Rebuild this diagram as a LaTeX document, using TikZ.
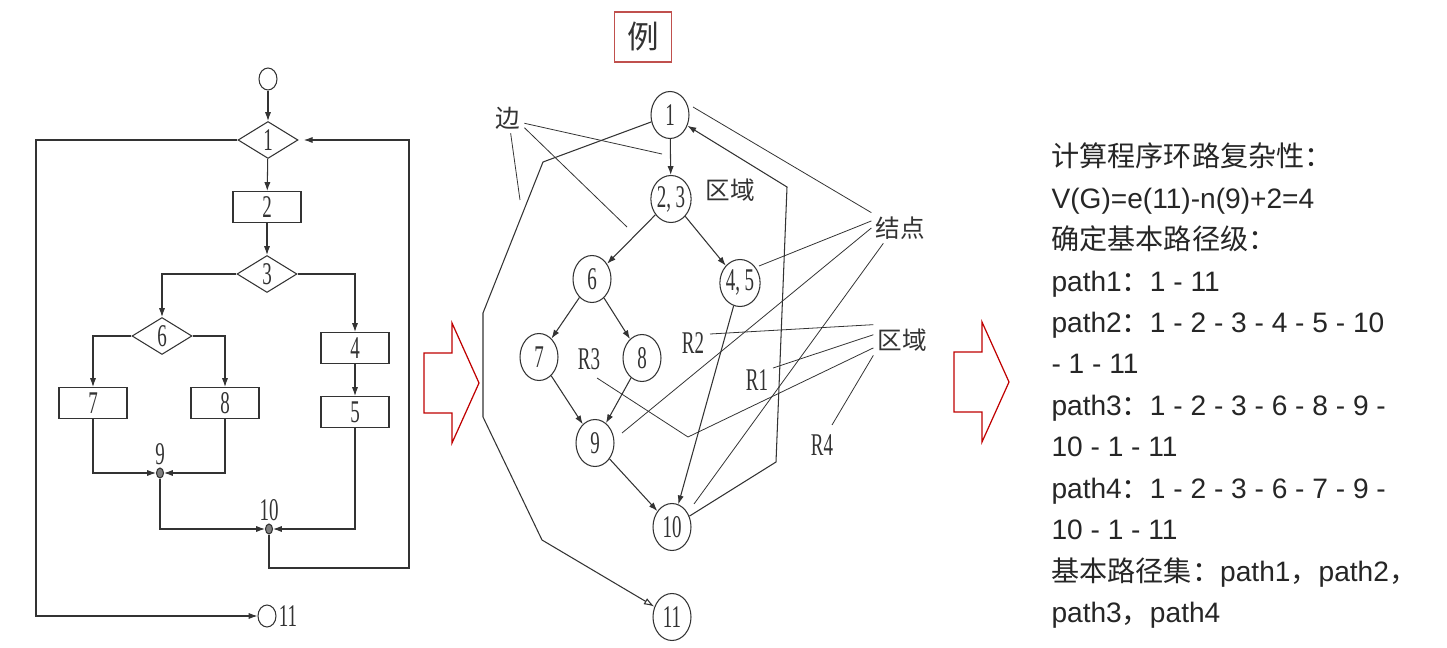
\documentclass[tikz,border=0pt]{standalone}
\usepackage{fontspec}
\usetikzlibrary{shapes.geometric,arrows.meta}
\newfontfamily\cjk{Noto Sans CJK SC}
\newfontfamily\latin{Liberation Sans}
\newfontfamily\narrow[FakeStretch=0.6]{Liberation Serif}
\newcommand\zh[1]{{\cjk #1}}
\definecolor{ink}{HTML}{333333}
\definecolor{textgray}{HTML}{262626}
\definecolor{arrowred}{HTML}{C00000}
\definecolor{framered}{HTML}{C0504D}

\begin{document}
\begin{tikzpicture}[x=0.02cm,y=-0.02cm,color=ink,line width=0.6pt,
  num/.style={font=\narrow\fontsize{18}{18}\selectfont},
  terminal/.style={draw,ellipse,minimum width=0.36cm,minimum height=0.44cm,inner sep=0},
  decision/.style={draw,diamond,minimum width=1.2cm,minimum height=0.74cm,inner sep=0,num},
  flowbox/.style={draw,rectangle,minimum width=1.36cm,minimum height=0.62cm,inner sep=0,num},
  joint/.style={draw,ellipse,fill=gray,minimum width=0.14cm,minimum height=0.2cm,inner sep=0},
  vertex/.style={draw,ellipse,minimum width=0.76cm,minimum height=0.94cm,inner sep=0,num},
  tag/.style={inner sep=1pt,num},
  note/.style={inner sep=2pt,font=\cjk\fontsize{14}{14}\selectfont},
  flow/.style={-{Latex[length=5pt,width=3.5pt]}},
  lead/.style={line width=0.45pt},
  bigarrow/.style={draw=arrowred,line width=0.7pt},
  line/.style={anchor=base west,inner sep=0,color=textgray,font=\latin\fontsize{16}{16}\selectfont},
]
\fill[white] (0,0) rectangle (1447,648);
\useasboundingbox (0,0) rectangle (1447,648); % adjust bounding box

% flowchart
\node[terminal] (start) at (268,79) {};
\node[decision] (d1) at (268,140) {1};
\node[flowbox] (b2) at (267,207) {2};
\node[decision] (d3) at (267,274) {3};
\node[decision] (d6) at (162,336) {6};
\node[flowbox] (b4) at (355,348) {4};
\node[flowbox] (b7) at (93,403) {7};
\node[flowbox] (b8) at (225,403) {8};
\node[flowbox] (b5) at (355,412) {5};
\node[joint,label={[tag]above:9}] (j9) at (160,473) {};
\node[joint,label={[tag]above:10}] (j10) at (269,529) {};
\node[terminal] (stop) at (267,616) {};
\node[tag,right] (stoplabel) at (stop.east) {11};
\coordinate (loopL) at (36,616);
\coordinate (loopR) at (409,568);

\draw[flow] (start) -- (d1);
\draw[flow] (d1) -- (b2);
\draw[flow] (b2) -- (d3);
\draw[flow] (d3.west) -| (d6.north);
\draw[flow] (d3.east) -| (b4.north);
\draw[flow] (d6.west) -| (b7.north);
\draw[flow] (d6.east) -| (b8.north);
\draw[flow] (b4) -- (b5);
\draw[flow] (b7) |- (j9);
\draw[flow] (b8) |- (j9);
\draw[flow] (j9) |- (j10);
\draw[flow] (b5) |- (j10);
\draw[flow,shorten >=3pt] (j10) |- (loopR) |- (d1.east);
\draw[flow] (d1.west) -| (loopL) -- (stop);

% arrows between the panels
\foreach \dx/\dy in {0/0,530/-1}
  \draw[bigarrow,shift={(\dx,\dy)}]
       (424,353) -- (452,353) -- (452,323) -- (479,383)
    -- (452,443) -- (452,413) -- (424,413) -- cycle;

% flow graph
\node[draw=framered,minimum width=1.14cm,minimum height=1cm,
      font=\cjk\fontsize{18}{18}\selectfont] (example) at (643,37) {例};
\node[vertex] (n1) at (670,115) {1};
\node[vertex] (n23) at (671,199) {2, 3};
\node[vertex] (n6) at (592,279) {6};
\node[vertex] (n45) at (740,283) {4, 5};
\node[vertex] (n7) at (539,357) {7};
\node[vertex] (n8) at (642,358) {8};
\node[vertex] (n9) at (595,443) {9};
\node[vertex] (n10) at (672,527) {10};
\node[vertex] (n11) at (672,617) {11};

\foreach \a/\b in {n1/n23,n23/n6,n23/n45,n6/n7,n6/n8,n7/n9,n8/n9,n9/n10,n45/n10}
  \draw[flow] (\a) -- (\b);

\coordinate (back1) at (776,462);
\coordinate (back2) at (787,187);
\draw[flow] (n10) -- (back1) -- (back2) -- (n1);
\coordinate (out1) at (543,162);
\coordinate (out2) at (483,313);
\coordinate (out3) at (483,417);
\coordinate (out4) at (542,540);
\draw[-{Latex[open,length=6pt,width=4pt]}]
     (n1) -- (out1) -- (out2) -- (out3) -- (out4) -- (n11);

% labels and leaders
\node[note] (bian) at (508,118) {边};
\node[note] (quyu) at (730,190) {区域};
\node[note] (jiedian) at (900,228) {结点};
\node[note] (quyu2) at (902,340) {区域};
\node[tag] (R1) at (757,380) {R1};
\node[tag] (R2) at (693,343) {R2};
\node[tag] (R3) at (589,359) {R3};
\node[tag] (R4) at (822,445) {R4};

\coordinate (tipE1) at (662,154);
\coordinate (tipE2) at (627,227);
\coordinate (tipE3) at (520,200);
\coordinate (tipN1) at (693,107);
\coordinate (tipN45) at (759,266);
\coordinate (tipN9) at (622,433);
\coordinate (tipN10) at (694,504);
\coordinate (tipR1) at (773,368);
\coordinate (tipR2) at (710,334);
\coordinate (tipR3) at (597,378);
\coordinate (bendR3) at (688,437);
\coordinate (tipR4) at (832,425);

\draw[lead] ([yshift=-3pt]bian.east) -- (tipE1);
\draw[lead] ([yshift=-5.5pt]bian.east) -- (tipE2);
\draw[lead] ([xshift=1.5pt]bian.south) -- (tipE3);
\draw[lead] (jiedian.north west) -- (tipN1);
\draw[lead] ([yshift=4pt]jiedian.west) -- (tipN45);
\draw[lead] (jiedian.west) -- (tipN9);
\draw[lead] ([xshift=-9.5pt]jiedian.south) -- (tipN10);
\draw[lead] (quyu2.north west) -- (tipR2);
\draw[lead] ([yshift=3pt]quyu2.west) -- (tipR1);
\draw[lead] ([yshift=-4.5pt]quyu2.west) -- (bendR3) -- (tipR3);
\draw[lead] (quyu2.south west) -- (tipR4);

% text on the right
\foreach \txt [count=\i from 0] in {
    {\zh{计算程序环路复杂性：}},
    {V(G)=e(11)-n(9)+2=4},
    {\zh{确定基本路径级：}},
    {path1\zh{：}1 - 11},
    {path2\zh{：}1 - 2 - 3 - 4 - 5 - 10},
    {- 1 - 11},
    {path3\zh{：}1 - 2 - 3 - 6 - 8 - 9 -},
    {10 - 1 - 11},
    {path4\zh{：}1 - 2 - 3 - 6 - 7 - 9 -},
    {10 - 1 - 11},
    {\zh{基本路径集：}path1\zh{，}path2\zh{，}},
    {path3\zh{，}path4}}
  \node[line] (line\i) at (1051,167+41.4*\i) {\txt};
\end{tikzpicture}
\end{document}
